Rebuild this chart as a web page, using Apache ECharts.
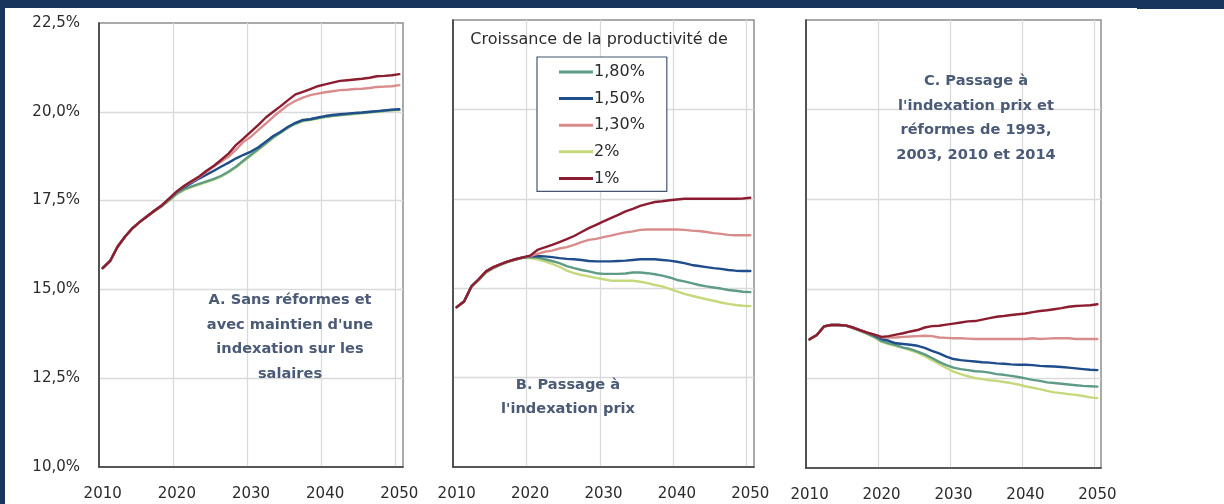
<!DOCTYPE html>
<html>
<head>
<meta charset="utf-8">
<script src="https://cdn.jsdelivr.net/npm/echarts@6/dist/echarts.min.js"></script>
<style>
  html, body { margin: 0; padding: 0; background: #ffffff; }
  #chart { width: 1224px; height: 504px; }
</style>
</head>
<body>
<div id="chart"></div>
<script>
// Years on the horizontal axis
const years = ['2010','2011','2012','2013','2014','2015','2016','2017','2018','2019',
  '2020','2021','2022','2023','2024','2025','2026','2027','2028','2029',
  '2030','2031','2032','2033','2034','2035','2036','2037','2038','2039',
  '2040','2041','2042','2043','2044','2045','2046','2047','2048','2049','2050'];

// Vertical axis ticks (% of GDP)
const yTicks = [10, 12.5, 15, 17.5, 20, 22.5];

// Productivity growth scenarios (legend order)
const scenarioNames = ['1,80%', '1,50%', '1,30%', '2%', '1%'];

// A. Sans réformes, indexation sur les salaires
const a_180 = [15.60,15.80,16.20,16.48,16.72,16.90,17.06,17.21,17.35,17.52,
  17.70,17.82,17.90,17.97,18.04,18.11,18.20,18.32,18.46,18.63,
  18.79,18.95,19.11,19.28,19.42,19.56,19.67,19.75,19.79,19.82,
  19.86,19.89,19.91,19.93,19.95,19.97,19.99,20.01,20.03,20.05,20.06];
const a_150 = [15.60,15.80,16.20,16.48,16.72,16.90,17.06,17.22,17.37,17.56,
  17.75,17.88,18.00,18.12,18.23,18.34,18.46,18.57,18.69,18.79,
  18.88,19.00,19.16,19.32,19.44,19.58,19.69,19.77,19.79,19.84,
  19.88,19.91,19.93,19.95,19.97,19.98,20.00,20.02,20.04,20.06,20.07];
const a_130 = [15.60,15.80,16.20,16.48,16.72,16.90,17.06,17.22,17.37,17.56,
  17.76,17.91,18.03,18.16,18.31,18.46,18.60,18.74,18.94,19.16,
  19.30,19.49,19.67,19.86,20.03,20.19,20.31,20.40,20.47,20.51,
  20.55,20.58,20.61,20.62,20.64,20.65,20.67,20.70,20.71,20.72,20.75];
const a_200 = [15.59,15.79,16.19,16.47,16.71,16.89,17.05,17.20,17.34,17.50,
  17.68,17.80,17.88,17.95,18.02,18.09,18.18,18.30,18.44,18.61,
  18.77,18.93,19.10,19.27,19.41,19.55,19.66,19.73,19.77,19.81,
  19.85,19.88,19.90,19.92,19.94,19.96,19.98,20.00,20.02,20.04,20.05];
const a_100 = [15.60,15.80,16.20,16.48,16.72,16.90,17.06,17.22,17.37,17.56,
  17.76,17.92,18.05,18.18,18.34,18.48,18.65,18.83,19.07,19.25,
  19.44,19.63,19.84,20.00,20.16,20.33,20.49,20.56,20.64,20.72,
  20.77,20.82,20.87,20.89,20.91,20.93,20.96,21.00,21.01,21.03,21.06];

// B. Passage à l'indexation prix
const b_180 = [14.47,14.63,15.04,15.24,15.45,15.57,15.66,15.74,15.80,15.85,
  15.87,15.86,15.81,15.76,15.70,15.62,15.56,15.51,15.47,15.42,
  15.40,15.40,15.40,15.41,15.44,15.44,15.42,15.39,15.35,15.30,
  15.23,15.19,15.14,15.09,15.05,15.02,14.99,14.95,14.93,14.90,14.89];
const b_150 = [14.47,14.63,15.05,15.25,15.47,15.59,15.67,15.75,15.81,15.86,
  15.89,15.90,15.89,15.87,15.84,15.82,15.81,15.79,15.76,15.75,
  15.75,15.75,15.76,15.77,15.79,15.81,15.81,15.81,15.79,15.77,
  15.74,15.70,15.65,15.62,15.59,15.56,15.54,15.51,15.49,15.48,15.48];
const b_130 = [14.47,14.63,15.05,15.25,15.47,15.59,15.67,15.75,15.81,15.86,
  15.90,15.96,16.02,16.05,16.11,16.15,16.21,16.29,16.35,16.38,
  16.43,16.47,16.52,16.56,16.59,16.63,16.64,16.64,16.64,16.64,
  16.64,16.63,16.61,16.60,16.57,16.54,16.52,16.49,16.48,16.48,16.48];
const b_200 = [14.46,14.62,15.03,15.22,15.43,15.55,15.65,15.73,15.79,15.84,
  15.84,15.81,15.75,15.68,15.60,15.49,15.42,15.37,15.33,15.29,
  15.25,15.21,15.21,15.21,15.21,15.18,15.14,15.09,15.05,14.98,
  14.91,14.84,14.79,14.74,14.69,14.65,14.60,14.56,14.53,14.51,14.50];
const b_100 = [14.47,14.63,15.05,15.25,15.47,15.59,15.67,15.75,15.81,15.86,
  15.91,16.07,16.14,16.21,16.29,16.37,16.46,16.57,16.68,16.77,
  16.87,16.96,17.05,17.15,17.22,17.30,17.36,17.41,17.43,17.46,
  17.48,17.50,17.50,17.50,17.50,17.50,17.50,17.50,17.50,17.51,17.53];

// C. Indexation prix et réformes de 1993, 2003, 2010 et 2014
const c_180 = [13.59,13.71,13.95,13.99,13.99,13.97,13.91,13.83,13.75,13.66,
  13.54,13.48,13.43,13.36,13.32,13.25,13.17,13.07,12.96,12.87,
  12.80,12.76,12.73,12.70,12.69,12.66,12.62,12.60,12.57,12.54,
  12.50,12.46,12.43,12.39,12.37,12.35,12.33,12.31,12.29,12.28,12.27];
const c_150 = [13.59,13.71,13.95,13.99,13.99,13.98,13.92,13.85,13.78,13.70,
  13.60,13.55,13.48,13.46,13.44,13.41,13.35,13.27,13.20,13.11,
  13.04,13.01,12.99,12.97,12.95,12.94,12.92,12.91,12.89,12.88,
  12.88,12.87,12.85,12.84,12.83,12.82,12.80,12.78,12.76,12.74,12.73];
const c_130 = [13.59,13.71,13.95,13.99,13.99,13.98,13.92,13.85,13.78,13.72,
  13.65,13.64,13.64,13.66,13.67,13.68,13.69,13.68,13.64,13.63,
  13.62,13.62,13.61,13.60,13.60,13.60,13.60,13.60,13.60,13.60,
  13.60,13.62,13.60,13.61,13.62,13.62,13.62,13.60,13.60,13.60,13.60];
const c_200 = [13.58,13.70,13.94,13.99,13.99,13.97,13.90,13.82,13.74,13.64,
  13.52,13.46,13.40,13.35,13.28,13.22,13.12,13.01,12.90,12.79,
  12.69,12.62,12.56,12.51,12.48,12.45,12.43,12.40,12.37,12.33,
  12.28,12.24,12.20,12.15,12.11,12.09,12.06,12.04,12.01,11.97,11.95];
const c_100 = [13.59,13.71,13.95,13.99,13.99,13.98,13.92,13.85,13.78,13.72,
  13.66,13.68,13.72,13.76,13.81,13.85,13.92,13.96,13.97,14.00,
  14.03,14.06,14.09,14.10,14.14,14.18,14.22,14.24,14.27,14.29,
  14.31,14.35,14.38,14.40,14.43,14.46,14.50,14.52,14.53,14.54,14.57];

const colors = {
  '1,80%': '#5f9c86',
  '1,50%': '#1f4c8a',
  '1,30%': '#d98c8c',
  '2%':    '#c5d97c',
  '1%':    '#8c1c30'
};

const FONT = 'DejaVu Sans';
const TEXT_DARK = '#2b2b2b';
const NOTE = '#4b5a76';

const panels = [
  { grid: { left: 99,  top: 23, width: 304, height: 444 }, labels: true,
    data: { '1,80%': a_180, '1,50%': a_150, '1,30%': a_130, '2%': a_200, '1%': a_100 } },
  { grid: { left: 453, top: 20, width: 301, height: 447 }, labels: false,
    data: { '1,80%': b_180, '1,50%': b_150, '1,30%': b_130, '2%': b_200, '1%': b_100 } },
  { grid: { left: 806, top: 20, width: 295, height: 448 }, labels: false,
    data: { '1,80%': c_180, '1,50%': c_150, '1,30%': c_130, '2%': c_200, '1%': c_100 } }
];

// Drawing order: lightest scenario underneath, 1 % on top
const drawOrder = ['2%', '1,80%', '1,50%', '1,30%', '1%'];

const grids = [], xAxes = [], yAxes = [], series = [];
panels.forEach(function (p, i) {
  grids.push(Object.assign({
    show: true, borderColor: '#8e8e8e', borderWidth: 1.5, backgroundColor: '#ffffff'
  }, p.grid));
  xAxes.push({
    type: 'category', gridIndex: i, data: years, boundaryGap: true,
    axisLine: { show: true, lineStyle: { color: '#3d3d3d', width: 1.6 } },
    axisTick: { show: false, interval: 9 },
    axisLabel: { interval: 9, margin: 20, color: TEXT_DARK, fontFamily: FONT, fontSize: 15 },
    splitLine: { show: true, interval: 9, showMinLine: false, showMaxLine: false,
      lineStyle: { color: '#dadada', width: 1.3 } }
  });
  yAxes.push({
    type: 'value', gridIndex: i, min: yTicks[0], max: yTicks[yTicks.length - 1], interval: 2.5,
    axisLine: { show: true, lineStyle: { color: '#3d3d3d', width: 1.6 } },
    axisTick: { show: false },
    axisLabel: {
      show: p.labels, margin: 19, color: TEXT_DARK, fontFamily: FONT, fontSize: 15,
      formatter: function (v) { return v.toFixed(1).replace('.', ',') + '%'; }
    },
    splitLine: { show: true, showMinLine: false, showMaxLine: false,
      lineStyle: { color: '#dadada', width: 1.3 } }
  });
  drawOrder.forEach(function (name) {
    series.push({
      name: name, type: 'line', xAxisIndex: i, yAxisIndex: i,
      data: p.data[name], symbol: 'none', smooth: false,
      lineStyle: { color: colors[name], width: 2.4, cap: 'round', join: 'round' },
      itemStyle: { color: colors[name] },
      emphasis: { disabled: true },
      silent: true
    });
  });
});

const noteStyle = { fill: NOTE, font: 'bold 14.6px "' + FONT + '"', textAlign: 'center', textVerticalAlign: 'middle' };
function note(x, y, text) {
  return { type: 'text', x: x, y: y, z: 20, silent: true,
    style: Object.assign({ text: text, lineHeight: 24.5 }, noteStyle) };
}

const option = {
  animation: false,
  backgroundColor: '#ffffff',
  grid: grids,
  xAxis: xAxes,
  yAxis: yAxes,
  series: series,
  legend: {
    data: scenarioNames,
    orient: 'vertical',
    left: 537, top: 57,
    padding: [6, 22, 4, 22],
    itemGap: 8.6,
    itemWidth: 34, itemHeight: 3,
    icon: 'rect',
    borderColor: '#46556e', borderWidth: 1.2,
    backgroundColor: '#ffffff',
    selectedMode: false,
    z: 10,
    textStyle: { color: TEXT_DARK, fontFamily: FONT, fontSize: 16, lineHeight: 18, padding: [0, 0, 0, -4] }
  },
  graphic: [
    // frame bands
    { type: 'rect', shape: { x: 0, y: 0, width: 1224, height: 8 }, style: { fill: '#17355d' }, silent: true },
    { type: 'rect', shape: { x: 1137, y: 0, width: 87, height: 9 }, style: { fill: '#17355d' }, silent: true },
    { type: 'rect', shape: { x: 0, y: 0, width: 5, height: 504 }, style: { fill: '#17355d' }, silent: true },
    // legend title
    { type: 'text', x: 599, y: 40, z: 20, silent: true,
      style: { text: 'Croissance de la productivité de', fill: TEXT_DARK,
        font: '16px "' + FONT + '"', textAlign: 'center', textVerticalAlign: 'middle' } },
    // panel notes
    note(290, 337, 'A. Sans réformes et\navec maintien d\'une\nindexation sur les\nsalaires'),
    note(568, 397, 'B. Passage à\nl\'indexation prix'),
    note(976, 118, 'C. Passage à\nl\'indexation prix et\nréformes de 1993,\n2003, 2010 et 2014')
  ]
};

const chart = echarts.init(document.getElementById('chart'), null, { renderer: 'canvas' });
chart.setOption(option);
</script>
</body>
</html>
